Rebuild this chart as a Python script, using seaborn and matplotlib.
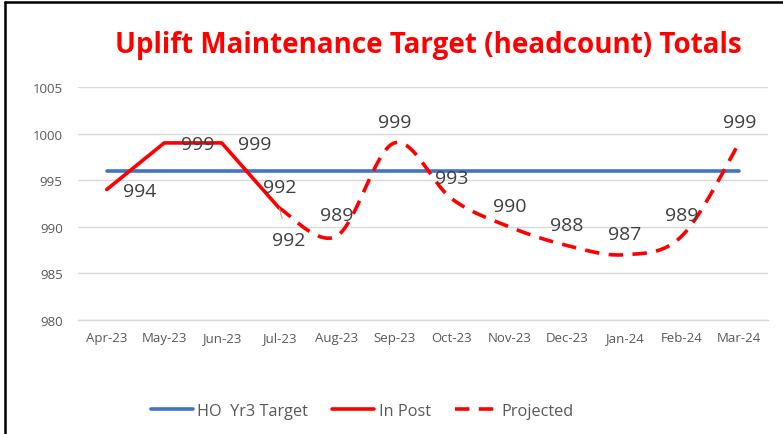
import matplotlib
matplotlib.use("Agg")
import matplotlib.pyplot as plt
from matplotlib.lines import Line2D
import numpy as np
import seaborn as sns

months = ["Apr-23", "May-23", "Jun-23", "Jul-23", "Aug-23", "Sep-23",
          "Oct-23", "Nov-23", "Dec-23", "Jan-24", "Feb-24", "Mar-24"]
target = [996] * 12
in_post = [994, 999, 999, 992]
projected = [992, 989, 999, 993, 990, 988, 987, 989, 999]
projected_start = 3  # Jul-23

BLUE = "#4472C4"
RED = "#FF0000"
GREY = "#595959"
LABEL = "#404040"
DASHES = [4.0, 2.6]


def smooth(xs, ys, n=20):
    """Excel-style smoothed line (cubic Bezier through the points)."""
    pts = np.column_stack([xs, ys]).astype(float)
    out = [pts[0]]
    for i in range(len(pts) - 1):
        p0 = pts[i - 1] if i > 0 else pts[i]
        p1, p2 = pts[i], pts[i + 1]
        p3 = pts[i + 2] if i + 2 < len(pts) else pts[i + 1]
        c1 = p1 + (p2 - p0) / 6
        c2 = p2 - (p3 - p1) / 6
        t = np.linspace(0, 1, n)[1:, None]
        seg = ((1 - t) ** 3) * p1 + 3 * ((1 - t) ** 2) * t * c1 + 3 * (1 - t) * t ** 2 * c2 + t ** 3 * p2
        out.extend(seg)
    out = np.array(out)
    return out[:, 0], out[:, 1]


sns.set_style("white")
plt.rcParams["font.family"] = ["Open Sans", "DejaVu Sans"]

fig = plt.figure(figsize=(7.83, 4.35), dpi=100)
ax = fig.add_axes([78 / 783, 1 - 321 / 435, 690 / 783, 233 / 435])

x_all = np.arange(len(months))
x_post = x_all[:len(in_post)]
x_proj = x_all[projected_start:projected_start + len(projected)]

sns.lineplot(x=x_all, y=target, ax=ax, color=BLUE, linewidth=2.6, legend=False)
sns.lineplot(x=x_post, y=in_post, ax=ax, color=RED, linewidth=2.6, legend=False)
sx, sy = smooth(x_proj, projected)
sns.lineplot(x=sx, y=sy, ax=ax, color=RED, linewidth=2.6, sort=False, legend=False)
ax.lines[-1].set_dashes(DASHES)

# data labels
lab_kw = dict(textcoords="offset points", va="center", fontsize=14, color=LABEL)
for i, (xi, yi) in enumerate(zip(x_post, in_post)):
    if i < len(in_post) - 1:
        ax.annotate(f"{yi}", (xi, yi), xytext=(12, -1), ha="left", **lab_kw)
    else:
        ax.annotate(f"{yi}", (xi, yi), xytext=(0, 15), ha="center", **lab_kw)
for i, (xi, yi) in enumerate(zip(x_proj, projected)):
    if i == 0:
        ax.annotate(f"{yi}", (xi, yi), xytext=(6.5, -23), ha="center",
                    arrowprops=dict(arrowstyle="-", color="#A6A6A6", lw=0.8,
                                    shrinkA=7, shrinkB=0), **lab_kw)
    else:
        ax.annotate(f"{yi}", (xi, yi), xytext=(0, 15), ha="center", **lab_kw)

ax.set_xlim(-0.5, len(months) - 0.5)
ax.set_ylim(980, 1005)
ax.set_yticks(range(980, 1006, 5))
ax.set_xticks(x_all)
ax.set_xticklabels(months)
ax.set_xticks(np.arange(-0.5, len(months), 1), minor=True)
ax.grid(axis="y", color="#D9D9D9", linewidth=1)
ax.set_axisbelow(True)
for s in ["top", "right", "left"]:
    ax.spines[s].set_visible(False)
ax.spines["bottom"].set_color("#D9D9D9")
ax.spines["bottom"].set_linewidth(1)
ax.tick_params(axis="x", which="major", length=0, pad=8, labelsize=9.5, labelcolor=GREY)
ax.tick_params(axis="x", which="minor", length=5, color="#D9D9D9", direction="out")
ax.tick_params(axis="y", length=0, pad=11, labelsize=9.5, labelcolor=GREY)
ax.set_xlabel("")
ax.set_ylabel("")

handles = [Line2D([], [], color=BLUE, lw=2.6),
           Line2D([], [], color=RED, lw=2.6),
           Line2D([], [], color=RED, lw=2.6, dashes=DASHES)]
ax.legend(handles, ["HO  Yr3 Target", "In Post", "Projected"], ncol=3,
          loc="center", bbox_to_anchor=(362 / 783, 1 - 412 / 435),
          bbox_transform=fig.transFigure, frameon=False, fontsize=11.7,
          labelcolor=GREY, handlelength=2.6, handletextpad=0.25, columnspacing=1.5)

fig.text(428 / 783, 1 - 45 / 435, "Uplift Maintenance Target (headcount) Totals",
         ha="center", va="center", fontsize=20, fontweight="bold", color=RED)

# outer frame (top and left edges visible)
fig.add_artist(Line2D([5 / 783, 5 / 783], [0, 1 - 3 / 435], color="black", lw=1.8,
                      transform=fig.transFigure))
fig.add_artist(Line2D([5 / 783, 1], [1 - 3 / 435, 1 - 3 / 435], color="black", lw=1.8,
                      transform=fig.transFigure))

fig.savefig("out.png", dpi=100)
